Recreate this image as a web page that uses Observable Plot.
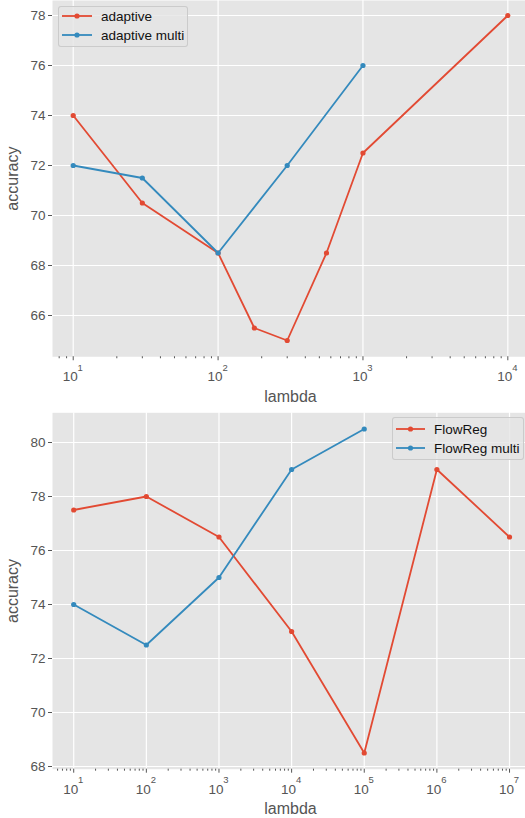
<!DOCTYPE html>
<html><head><meta charset="utf-8">
<script src="https://cdn.jsdelivr.net/npm/d3@7"></script>
<script src="https://cdn.jsdelivr.net/npm/@observablehq/plot@0.6"></script>
<style>
body{margin:0;background:#fff;font-family:"Liberation Sans",Arial,sans-serif}
#wrap{position:relative;width:525px;height:818px;overflow:hidden}
#wrap svg{display:block}
.legend{position:absolute;background:rgba(229,229,229,0.8);border:1px solid rgba(200,200,200,0.9);border-radius:3px;box-sizing:border-box}
.item{position:absolute;height:18px;display:flex;align-items:center;font-size:13.5px;color:#111;white-space:nowrap}
.item svg{margin-right:9px}
</style>
</head><body>
<div id="wrap"></div>
<script>
// ---- data ----
const adaptiveX = [10, 30, 100, 178, 300, 560, 1000, 10000];
const adaptiveY = [74, 70.5, 68.5, 65.5, 65, 68.5, 72.5, 78];
const adaptiveMultiX = [10, 30, 100, 300, 1000];
const adaptiveMultiY = [72, 71.5, 68.5, 72, 76];

const flowRegX = [10, 100, 1000, 1e4, 1e5, 1e6, 1e7];
const flowRegY = [77.5, 78, 76.5, 73, 68.5, 79, 76.5];
const flowRegMultiX = [10, 100, 1000, 1e4, 1e5];
const flowRegMultiY = [74, 72.5, 75, 79, 80.5];

const topMajor = [10, 100, 1000, 10000];
const bottomMajor = [10, 100, 1000, 1e4, 1e5, 1e6, 1e7];
const topYTicks = [66, 68, 70, 72, 74, 76, 78];
const bottomYTicks = [68, 70, 72, 74, 76, 78, 80];

const RED = "#E24A33", BLUE = "#348ABD";
const FONT = "'Liberation Sans', Arial, sans-serif";

function minorTicks(lo, hi) {
  const out = [];
  for (let e = Math.floor(Math.log10(lo)); e <= Math.ceil(Math.log10(hi)); e++)
    for (let m = 2; m <= 9; m++) { const v = m * 10 ** e; if (v >= lo && v <= hi) out.push(v); }
  return out;
}

function panel({series, xDomain, yDomain, yTicks, majors, height, marginTop, marginBottom}) {
  const minors = minorTicks(xDomain[0], xDomain[1]);
  const data = series.flatMap(s => s.x.map((x, i) => ({x, y: s.y[i], name: s.name})));
  const marks = [
    Plot.frame({fill: "#E5E5E5", stroke: null}),
    Plot.gridX(majors, {stroke: "white", strokeOpacity: 1, strokeWidth: 1.2}),
    Plot.gridY(yTicks, {stroke: "white", strokeOpacity: 1, strokeWidth: 1.2}),
    Plot.axisY({ticks: yTicks, tickSize: 4, tickPadding: 3, label: null, color: "#555", fontSize: 13.5}),
    Plot.axisX({ticks: majors, tickSize: 4, tickFormat: () => "", label: null, color: "#555"}),
    Plot.axisX({ticks: minors, tickSize: 2, tickFormat: () => "", label: null, color: "#555"}),
    Plot.text(majors, {x: d => d, text: () => "10", frameAnchor: "bottom", lineAnchor: "bottom", textAnchor: "end", dx: 4.5, dy: 24.4, fontSize: 13.5, fill: "#555"}),
    Plot.text(majors, {x: d => d, text: d => String(Math.round(Math.log10(d))), frameAnchor: "bottom", lineAnchor: "bottom", textAnchor: "start", dx: 4.3, dy: 14, fontSize: 9.5, fill: "#555"}),
    Plot.text(["lambda"], {frameAnchor: "bottom", lineAnchor: "bottom", textAnchor: "middle", dy: 45, dx: 1.5, fontSize: 16, fill: "#555"}),
    Plot.text(["accuracy"], {frameAnchor: "left", textAnchor: "middle", lineAnchor: "middle", rotate: -90, dx: -40, fontSize: 16, fill: "#555"})
  ];
  for (const s of series) {
    const d = data.filter(r => r.name === s.name);
    marks.push(Plot.line(d, {x: "x", y: "y", stroke: s.color, strokeWidth: 1.8}));
    marks.push(Plot.dot(d, {x: "x", y: "y", fill: s.color, r: 2.6}));
  }
  return Plot.plot({
    width: 525, height, marginTop, marginBottom, marginLeft: 52, marginRight: 0,
    style: {fontFamily: FONT, fontSize: "13.5px", background: "transparent", color: "#555"},
    x: {type: "log", domain: xDomain},
    y: {domain: yDomain},
    marks
  });
}

const wrap = document.getElementById("wrap");
wrap.append(panel({
  series: [
    {name: "adaptive", x: adaptiveX, y: adaptiveY, color: RED},
    {name: "adaptive multi", x: adaptiveMultiX, y: adaptiveMultiY, color: BLUE}
  ],
  xDomain: [10 ** 0.857, 10 ** 4.122], yDomain: [64.35, 78.6], yTicks: topYTicks, majors: topMajor,
  height: 410, marginTop: 0, marginBottom: 53.75
}));
wrap.append(panel({
  series: [
    {name: "FlowReg", x: flowRegX, y: flowRegY, color: RED},
    {name: "FlowReg multi", x: flowRegMultiX, y: flowRegMultiY, color: BLUE}
  ],
  xDomain: [10 ** 0.708, 10 ** 7.22], yDomain: [67.9, 81.1], yTicks: bottomYTicks, majors: bottomMajor,
  height: 408, marginTop: 2.3, marginBottom: 49.3
}));

function legend(items, box, swatchX, textX, rowYs) {
  const lg = document.createElement("div");
  lg.className = "legend";
  Object.assign(lg.style, {left: box[0] + "px", top: box[1] + "px", width: (box[2] - box[0]) + "px", height: (box[3] - box[1]) + "px"});
  items.forEach((it, i) => {
    const row = document.createElement("div");
    row.className = "item";
    row.style.left = (swatchX - box[0] - 1) + "px";
    row.style.top = (rowYs[i] - box[1] - 1 - 9) + "px";
    const w = textX - swatchX - 9;
    row.innerHTML = `<svg width="${w}" height="18"><line x1="0" x2="${w}" y1="9" y2="9" stroke="${it.color}" stroke-width="1.8"/><circle cx="${w/2}" cy="9" r="2.6" fill="${it.color}"/></svg><span>${it.name}</span>`;
    lg.append(row);
  });
  wrap.append(lg);
}
legend([{name: "adaptive", color: RED}, {name: "adaptive multi", color: BLUE}], [58, 6, 188, 47], 62, 101, [16, 35]);
legend([{name: "FlowReg", color: RED}, {name: "FlowReg multi", color: BLUE}], [392, 417, 524, 460], 396, 434, [429, 448]);
</script>
</body></html>
